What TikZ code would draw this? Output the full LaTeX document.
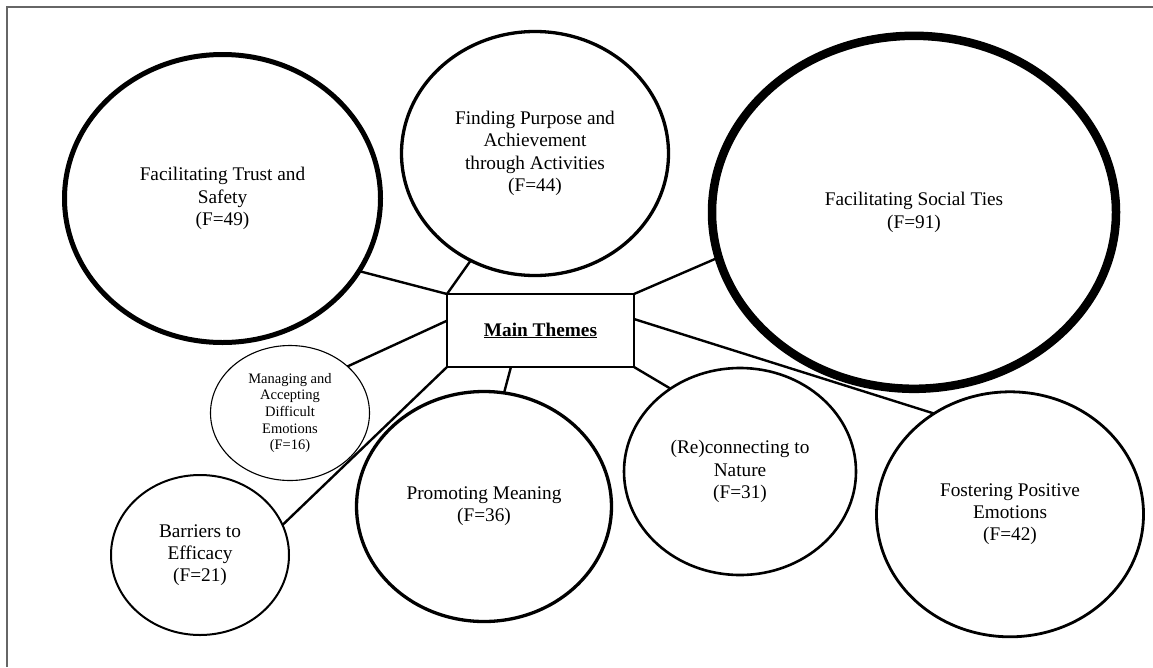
\documentclass[tikz,border=0pt]{standalone}
\usepackage{fontspec}
\setmainfont{Liberation Serif}
\usetikzlibrary{shapes.geometric}
\begin{document}
\begin{tikzpicture}[x=1pt,y=-1pt,
  theme/.style={ellipse, draw, inner sep=0pt, outer sep=0pt, align=center,
    font=\fontsize{19.3}{22.3}\selectfont},
  small theme/.style={theme, font=\fontsize{14.5}{16.7}\selectfont},
  hub/.style={rectangle, draw, line width=2.7pt, inner sep=0pt, outer sep=0pt,
    minimum width=187pt, minimum height=73pt, font=\fontsize{19.3}{22.3}\selectfont},
  link/.style={line width=2.4pt},
]
\useasboundingbox (0,0) rectangle (1153,667);
\fill[white] (0,0) rectangle (1153,667);
% page frame (top and left edges)
\draw[line width=1.5pt, black!60] (7,667) -- (7,7) -- (1153,7);

% central box
\node[hub] (main) at (540.5,330.5) {\underline{\textbf{Main Themes}}};

% themes
\node[theme, line width=5pt, minimum width=316pt, minimum height=288pt]
  (trust) at (222.5,198.5) {Facilitating Trust and\\Safety\\(F=49)};
\node[theme, line width=3.3pt, minimum width=267pt, minimum height=244pt]
  (purpose) at (535,153.5) {Finding Purpose and\\Achievement\\through Activities\\(F=44)};
\node[theme, line width=8.5pt, minimum width=404pt, minimum height=353pt]
  (social) at (914,212.3) {Facilitating Social Ties\\(F=91)};
\node[small theme, line width=1.1pt, minimum width=159pt, minimum height=135pt]
  (managing) at (290,413) {Managing and\\Accepting\\Difficult\\Emotions\\(F=16)};
\node[theme, line width=2pt, minimum width=178pt, minimum height=160pt]
  (barriers) at (200,555) {Barriers to\\Efficacy\\(F=21)};
\node[theme, line width=3.3pt, minimum width=255pt, minimum height=230pt]
  (meaning) at (484,506.5) {Promoting Meaning\\(F=36)};
\node[theme, line width=2.6pt, minimum width=232pt, minimum height=207pt]
  (nature) at (740,471.5) {(Re)connecting to\\Nature\\(F=31)};
\node[theme, line width=2.8pt, minimum width=267pt, minimum height=245pt]
  (positive) at (1010,514.3) {Fostering Positive\\Emotions\\(F=42)};

% connectors
\draw[link] (main.north west) -- (trust.-28.6);
\draw[link] (main.north west) -- (purpose.-121.8);
\draw[link] (main.north east) -- (social.-167.3);
\draw[link] (main.174.6) -- (managing.39.6);
\draw[link] (main.south west) -- (barriers.20.6);
\draw[link] (main.-129.9) -- (meaning.80.9);
\draw[link] (main.south east) -- (nature.130.4);
\draw[link] (main.7.6) -- (positive.127.8);
\end{tikzpicture}
\end{document}
